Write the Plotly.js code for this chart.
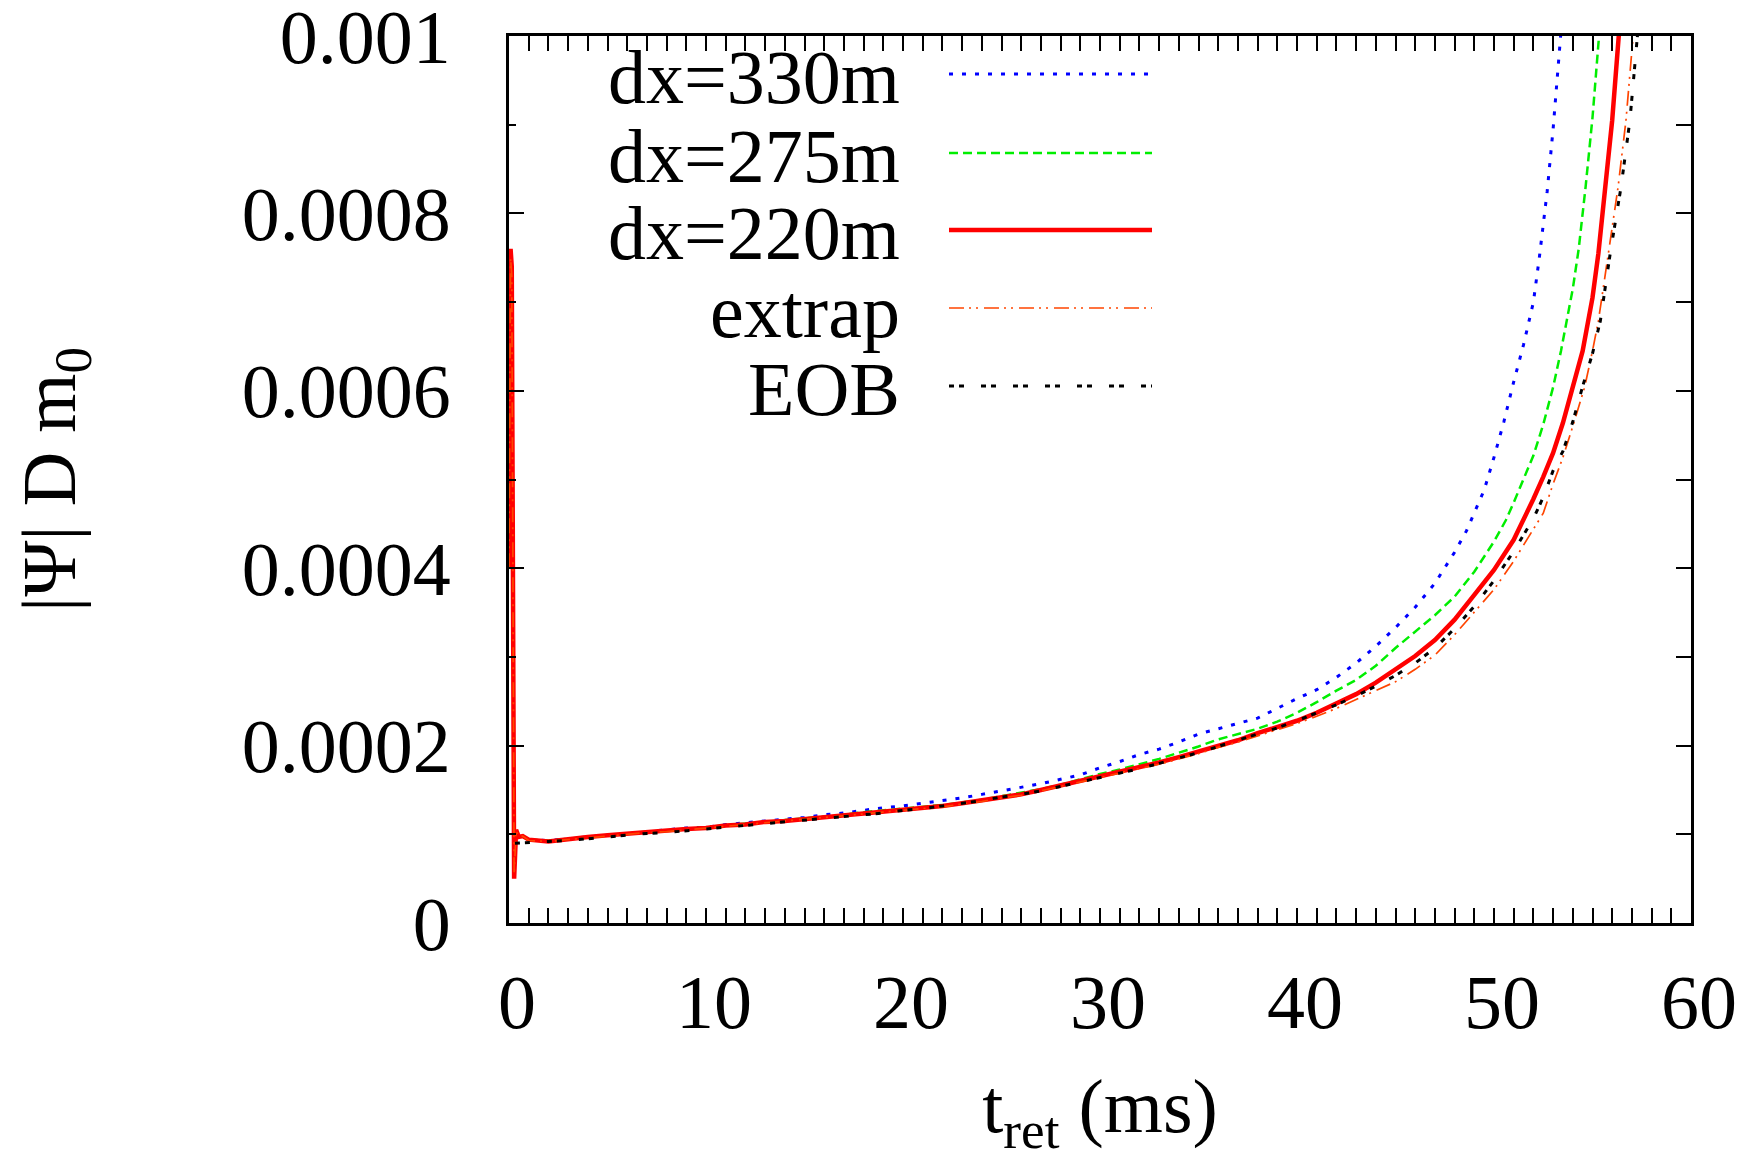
<!DOCTYPE html>
<html>
<head>
<meta charset="utf-8">
<script src="https://cdn.plot.ly/plotly-3.0.1.min.js"></script>
<style>html,body{margin:0;padding:0;background:#fff;}#plot{width:1754px;height:1160px;}</style>
</head>
<body>
<div id="plot"></div>
<script>
// ---- data (t in ms, |Psi| D m0) ----
const t_330 = [1,2,3,4,5,6,7,8,9,10,11,12,13,14,15,16,17,18,19,20,21,22,23,24,25,26,27,28,29,30,31,32,33,34,35,36,37,38,39,40,41,42,43,44,45,46,47,48,48.6,49,49.5,50,50.5,51,51.5,52,52.3,52.7,53.0,53.4];
const psi_330 = [0.94e-4,0.93e-4,0.95e-4,0.97e-4,0.99e-4,1.01e-4,1.03e-4,1.05e-4,1.07e-4,1.08e-4,1.11e-4,1.13e-4,1.15e-4,1.17e-4,1.19e-4,1.22e-4,1.24e-4,1.27e-4,1.30e-4,1.32e-4,1.35e-4,1.38e-4,1.41e-4,1.45e-4,1.49e-4,1.53e-4,1.57e-4,1.62e-4,1.67e-4,1.75e-4,1.82e-4,1.90e-4,1.96e-4,2.04e-4,2.13e-4,2.19e-4,2.25e-4,2.31e-4,2.42e-4,2.53e-4,2.63e-4,2.77e-4,2.93e-4,3.12e-4,3.33e-4,3.56e-4,3.83e-4,4.18e-4,4.42e-4,4.62e-4,4.88e-4,5.25e-4,5.65e-4,6.10e-4,6.52e-4,7.00e-4,7.50e-4,8.25e-4,8.95e-4,10.05e-4];

const t_275 = [1,2,3,4,5,6,7,8,9,10,11,12,13,14,15,16,17,18,19,20,21,22,23,24,25,26,27,28,29,30,31,32,33,34,35,36,37,38,39,40,41,42,43,44,45,46,47,48,49,50,50.6,51,51.5,52,52.5,53,53.4,53.7,54,54.3,54.65,55.0,55.35];
const psi_275 = [0.94e-4,0.93e-4,0.95e-4,0.97e-4,0.99e-4,1.01e-4,1.03e-4,1.04e-4,1.06e-4,1.08e-4,1.10e-4,1.12e-4,1.14e-4,1.16e-4,1.18e-4,1.20e-4,1.22e-4,1.25e-4,1.27e-4,1.29e-4,1.31e-4,1.33e-4,1.36e-4,1.39e-4,1.43e-4,1.47e-4,1.51e-4,1.56e-4,1.62e-4,1.68e-4,1.73e-4,1.79e-4,1.85e-4,1.92e-4,1.99e-4,2.07e-4,2.13e-4,2.19e-4,2.27e-4,2.37e-4,2.49e-4,2.62e-4,2.74e-4,2.90e-4,3.10e-4,3.28e-4,3.47e-4,3.68e-4,3.96e-4,4.30e-4,4.54e-4,4.74e-4,5.00e-4,5.27e-4,5.62e-4,6.04e-4,6.45e-4,6.79e-4,7.15e-4,7.60e-4,8.30e-4,9.08e-4,10.05e-4];

const t_220 = [0,0.08,0.14,0.26,0.36,0.5,0.7,1,2,3,4,5,6,7,8,9,10,11,12,13,14,15,16,17,18,19,20,21,22,23,24,25,26,27,28,29,30,31,32,33,34,35,36,37,38,39,40,41,42,43,44,45,46,47,48,49,50,51,51.5,52,52.5,53,53.5,54,54.5,55,55.3,55.65,56.0,56.35];
const psi_220 = [4.0e-4,7.6e-4,7.4e-4,0.5e-4,1.05e-4,0.97e-4,0.98e-4,0.94e-4,0.92e-4,0.95e-4,0.97e-4,0.99e-4,1.01e-4,1.02e-4,1.04e-4,1.06e-4,1.07e-4,1.10e-4,1.11e-4,1.14e-4,1.15e-4,1.17e-4,1.20e-4,1.22e-4,1.24e-4,1.26e-4,1.28e-4,1.30e-4,1.32e-4,1.35e-4,1.38e-4,1.42e-4,1.45e-4,1.50e-4,1.55e-4,1.60e-4,1.65e-4,1.70e-4,1.76e-4,1.81e-4,1.87e-4,1.93e-4,2.00e-4,2.06e-4,2.14e-4,2.21e-4,2.28e-4,2.37e-4,2.47e-4,2.58e-4,2.71e-4,2.86e-4,3.01e-4,3.19e-4,3.42e-4,3.70e-4,3.98e-4,4.32e-4,4.54e-4,4.78e-4,5.03e-4,5.30e-4,5.64e-4,6.04e-4,6.45e-4,7.05e-4,7.55e-4,8.30e-4,9.05e-4,10.05e-4];

const t_extrap = [0,0.08,0.14,0.26,0.36,0.5,0.7,1,2,3,4,5,6,7,8,9,10,11,12,13,14,15,16,17,18,19,20,21,22,23,24,25,26,27,28,29,30,31,32,33,34,35,36,37,38,39,40,41,42,43,44,45,46,47,48,49,50,51,52,52.5,53,53.5,54,54.6,55,55.3,55.8,56.3,56.7,57.08];
const psi_extrap = [4.0e-4,7.5e-4,7.3e-4,0.55e-4,1.04e-4,0.97e-4,0.98e-4,0.93e-4,0.92e-4,0.94e-4,0.96e-4,0.98e-4,1.00e-4,1.02e-4,1.03e-4,1.05e-4,1.07e-4,1.09e-4,1.11e-4,1.13e-4,1.15e-4,1.17e-4,1.19e-4,1.21e-4,1.23e-4,1.25e-4,1.27e-4,1.29e-4,1.31e-4,1.34e-4,1.37e-4,1.41e-4,1.44e-4,1.49e-4,1.54e-4,1.59e-4,1.64e-4,1.69e-4,1.74e-4,1.79e-4,1.85e-4,1.91e-4,1.98e-4,2.04e-4,2.11e-4,2.18e-4,2.25e-4,2.33e-4,2.42e-4,2.52e-4,2.62e-4,2.72e-4,2.86e-4,3.02e-4,3.25e-4,3.50e-4,3.76e-4,4.08e-4,4.44e-4,4.62e-4,4.95e-4,5.25e-4,5.60e-4,6.04e-4,6.45e-4,6.79e-4,7.54e-4,8.30e-4,9.05e-4,10.05e-4];

const t_eob = [0.3,1,2,3,4,5,6,7,8,9,10,11,12,13,14,15,16,17,18,19,20,21,22,23,24,25,26,27,28,29,30,31,32,33,34,35,36,37,38,39,40,41,42,43,44,45,46,47,48,49,50,51,52,52.5,53,53.5,54,54.5,55,55.4,55.9,56.45,56.9,57.3];
const psi_eob = [0.90e-4,0.91e-4,0.92e-4,0.93e-4,0.95e-4,0.97e-4,0.99e-4,1.01e-4,1.02e-4,1.04e-4,1.06e-4,1.08e-4,1.10e-4,1.12e-4,1.14e-4,1.16e-4,1.18e-4,1.20e-4,1.22e-4,1.24e-4,1.27e-4,1.29e-4,1.32e-4,1.35e-4,1.38e-4,1.42e-4,1.45e-4,1.49e-4,1.54e-4,1.59e-4,1.64e-4,1.69e-4,1.74e-4,1.80e-4,1.86e-4,1.92e-4,1.99e-4,2.06e-4,2.13e-4,2.20e-4,2.28e-4,2.37e-4,2.46e-4,2.56e-4,2.67e-4,2.79e-4,2.93e-4,3.10e-4,3.32e-4,3.57e-4,3.86e-4,4.19e-4,4.56e-4,4.80e-4,5.10e-4,5.32e-4,5.65e-4,6.05e-4,6.42e-4,6.79e-4,7.55e-4,8.30e-4,9.05e-4,10.05e-4];

const seriesNames = ['dx=330m','dx=275m','dx=220m','extrap','EOB'];
const xTickVals = [0,10,20,30,40,50,60];
const yTickVals = [0,0.0002,0.0004,0.0006,0.0008,0.001];
const yTickText = ['0','0.0002','0.0004','0.0006','0.0008','0.001'];
const yMinorVals = [0.0001,0.0003,0.0005,0.0007,0.0009];
const y2TickVals = [0.0001,0.0002,0.0003,0.0004,0.0005,0.0006,0.0007,0.0008,0.0009];

// ---- styles ----
const styles = [
  {color:'#0000ff', width:3,   dash:'4px,9px'},
  {color:'#00ee00', width:2.5, dash:'9px,5px'},
  {color:'#ff0000', width:4.5, dash:'solid'},
  {color:'#ff4500', width:1.7, dash:'15px,5px,2px,5px,2px,6px'},
  {color:'#000000', width:3,   dash:'5px,5px,5px,17px'}
];
const xs = [t_330,t_275,t_220,t_extrap,t_eob];
const ys = [psi_330,psi_275,psi_220,psi_extrap,psi_eob];

const traces = xs.map((x,i)=>({
  x:x, y:ys[i], name:seriesNames[i], type:'scatter', mode:'lines',
  line:{color:styles[i].color, width:styles[i].width, dash:styles[i].dash},
  showlegend:false, hoverinfo:'skip'
}));
// empty trace to attach the right-hand tick axis
traces.push({x:[], y:[], yaxis:'y2', type:'scatter', mode:'lines', showlegend:false, hoverinfo:'skip'});

const FONT = 'Liberation Serif, Times New Roman, serif';
const FS = 76;

// legend built from annotations + sample lines (text right-aligned, sample on right)
const L = 509, R = 1691, T = 36, B = 923;
const px2x = p => (p - L)/(R - L);
const px2y = p => (B - p)/(B - T);
const legendRows = [74, 153, 230, 308, 386];
const annotations = [];
const shapes = [];
seriesNames.forEach((nm,i)=>{
  annotations.push({xref:'paper', yref:'paper', x:px2x(902), y:px2y(legendRows[i]+3),
    xanchor:'right', yanchor:'middle', text:nm, showarrow:false,
    font:{family:FONT, size:FS, color:'#000'}});
  shapes.push({type:'line', xref:'paper', yref:'paper',
    x0:px2x(949), x1:px2x(1152), y0:px2y(legendRows[i]), y1:px2y(legendRows[i]),
    line:{color:styles[i].color, width:styles[i].width, dash:styles[i].dash}});
});

const layout = {
  width:1754, height:1160,
  margin:{l:L, r:1754-R, t:T, b:1160-B},
  paper_bgcolor:'#fff', plot_bgcolor:'#fff',
  font:{family:FONT, size:FS, color:'#000'},
  xaxis:{
    range:[0,60], tickmode:'array', tickvals:xTickVals,
    ticks:'inside', ticklen:15, tickwidth:2, tickcolor:'#000',
    showline:true, linewidth:3, linecolor:'#000', mirror:'allticks',
    showgrid:false, zeroline:false,
    minor:{tickmode:'linear', dtick:1, ticks:'inside', ticklen:7, tickwidth:2, tickcolor:'#000', showgrid:false},
    tickfont:{family:FONT, size:FS}, ticklabelstandoff:11, ticklabelshift:8, ticklabeloverflow:'allow',
    title:{text:'t<sub>ret</sub> (ms)', font:{family:FONT, size:FS}, standoff:42}
  },
  yaxis:{
    range:[0,0.001], tickmode:'array', tickvals:yTickVals, ticktext:yTickText,
    ticks:'inside', ticklen:15, tickwidth:2, tickcolor:'#000',
    showline:true, linewidth:3, linecolor:'#000', mirror:true,
    showgrid:false, zeroline:false,
    minor:{tickmode:'array', tickvals:yMinorVals, ticks:'inside', ticklen:7, tickwidth:2, tickcolor:'#000', showgrid:false},
    tickfont:{family:FONT, size:FS}, ticklabelstandoff:40, ticklabeloverflow:'allow',
    title:{text:'|Ψ| D m<sub>0</sub>', font:{family:FONT, size:FS}, standoff:142}
  },
  yaxis2:{
    range:[0,0.001], overlaying:'y', side:'right', anchor:'x',
    tickmode:'array', tickvals:y2TickVals, showticklabels:false,
    ticks:'inside', ticklen:15, tickwidth:2, tickcolor:'#000',
    showline:false, showgrid:false, zeroline:false
  },
  annotations:annotations,
  shapes:shapes
};

Plotly.newPlot('plot', traces, layout, {staticPlot:true, displayModeBar:false});
</script>
</body>
</html>
